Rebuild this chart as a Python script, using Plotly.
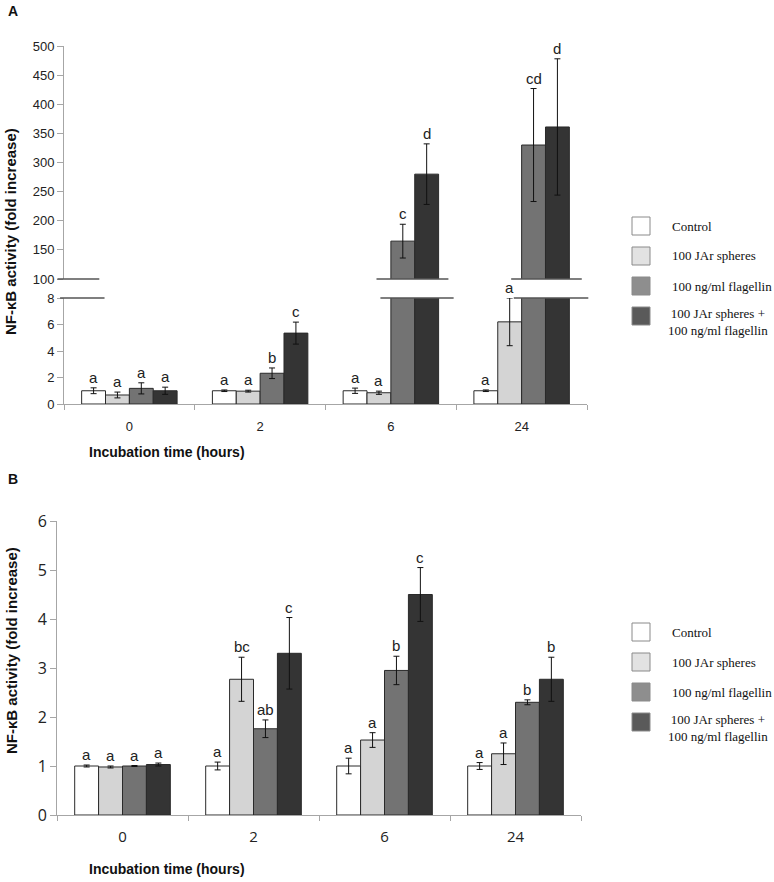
import plotly.graph_objects as go

W, H = 774, 882

times = ["0", "2", "6", "24"]
series_names = ["Control", "100 JAr spheres", "100 ng/ml flagellin",
                "100 JAr spheres +<br>100 ng/ml flagellin"]
bar_colors = ["#ffffff", "#d4d4d4", "#737373", "#343434"]
legend_colors = ["#ffffff", "#e2e2e2", "#8e8e8e", "#5a5a5a"]

# panel A (fold increase, broken axis)
a_control = [1.0, 1.0, 1.0, 1.0]
a_control_err = [0.22, 0.06, 0.2, 0.06]
a_spheres = [0.68, 0.97, 0.85, 6.2]
a_spheres_err = [0.22, 0.07, 0.12, 1.8]
a_flag = [1.18, 2.32, 165, 330]
a_flag_err = [0.42, 0.4, 29, 97]
a_both = [1.0, 5.35, 280, 361]
a_both_err = [0.27, 0.83, 52, 117]
a_letters = [["a", "a", "a", "a"], ["a", "a", "a", "a"],
             ["a", "b", "c", "cd"], ["a", "c", "d", "d"]]

# panel B
b_control = [1.0, 1.0, 1.0, 1.0]
b_control_err = [0.02, 0.08, 0.16, 0.07]
b_spheres = [0.98, 2.77, 1.53, 1.25]
b_spheres_err = [0.02, 0.45, 0.15, 0.22]
b_flag = [1.0, 1.76, 2.95, 2.3]
b_flag_err = [0.01, 0.18, 0.29, 0.05]
b_both = [1.03, 3.3, 4.5, 2.77]
b_both_err = [0.03, 0.73, 0.55, 0.45]
b_letters = [["a", "a", "a", "a"], ["a", "bc", "a", "a"],
             ["a", "ab", "b", "b"], ["a", "c", "c", "b"]]

a_vals = [a_control, a_spheres, a_flag, a_both]
a_errs = [a_control_err, a_spheres_err, a_flag_err, a_both_err]
b_vals = [b_control, b_spheres, b_flag, b_both]
b_errs = [b_control_err, b_spheres_err, b_flag_err, b_both_err]

BARGAP = 0.27
bw = (1 - BARGAP) / 4
xpos = list(range(len(times)))


def px(x):
    return x / W


def py(y):
    return 1 - y / H


# domains in pixels of the 774x882 page
A_X = [px(64), px(587)]
A_LOW = [py(404), py(298)]
A_UP = [py(279), py(46)]
B_X = [px(57), px(581)]
B_Y = [py(815), py(521)]

SANS = "Liberation Sans, Arial, sans-serif"
SERIF = "Liberation Serif, Times New Roman, serif"
AX = "#a6a6a6"

fig = go.Figure()


def add_bars(vals, errs, xa, ya):
    for j in range(4):
        fig.add_trace(go.Bar(
            x=xpos, y=vals[j], xaxis=xa, yaxis=ya,
            marker=dict(color=bar_colors[j], line=dict(color="#2a2a2a", width=1)),
            error_y=dict(type="data", array=errs[j], color="#111", thickness=1, width=3),
            showlegend=False, name=series_names[j].replace("<br>", " "),
        ))


add_bars(a_vals, a_errs, "x", "y")
add_bars(a_vals, a_errs, "x", "y2")
add_bars(b_vals, b_errs, "x2", "y3")

ann = []
letter_font = dict(family=SANS, size=15, color="#222")
# significance letters
for j in range(4):
    for i in range(4):
        top = a_vals[j][i] + a_errs[j][i]
        yref = "y2" if a_vals[j][i] > 8 else "y"
        ann.append(dict(x=i + (j - 1.5) * bw, y=top, xref="x", yref=yref,
                        text=a_letters[j][i], showarrow=False, yanchor="bottom",
                        xanchor="center", font=letter_font))
        top = b_vals[j][i] + b_errs[j][i]
        ann.append(dict(x=i + (j - 1.5) * bw, y=top, xref="x2", yref="y3",
                        text=b_letters[j][i], showarrow=False, yanchor="bottom",
                        xanchor="center", font=letter_font))


def paper_text(x, y, text, font, **kw):
    d = dict(x=px(x), y=py(y), xref="paper", yref="paper", text=text, showarrow=False,
             xanchor="center", yanchor="middle", font=font)
    d.update(kw)
    ann.append(d)


bold14 = dict(family=SANS, size=14, color="#111")
bold15 = dict(family=SANS, size=15, color="#111")
# panel letters, axis titles
paper_text(13, 11, "<b>A</b>", bold14)
paper_text(13, 479, "<b>B</b>", bold14)
paper_text(11, 232, "<b>NF-κB activity (fold increase)</b>", bold15, textangle=-90)
paper_text(11, 651, "<b>NF-κB activity (fold increase)</b>", bold15, textangle=-90)
paper_text(167, 452, "<b>Incubation time (hours)</b>", bold14)
paper_text(167, 869, "<b>Incubation time (hours)</b>", bold14)

shapes = []


# broken-axis marks (drawn in paper space so they are not clipped)
def ax_x(v):
    return A_X[0] + (v + 0.5) / 4 * (A_X[1] - A_X[0])


breaks_up = [(-0.55, -0.23), (1.89, 2.44), (2.92, 3.46)]
breaks_low = [(-0.53, -0.19), (1.92, 2.48), (2.94, 3.51)]
for x0, x1 in breaks_up:
    shapes.append(dict(type="line", xref="paper", yref="paper", x0=ax_x(x0), x1=ax_x(x1),
                       y0=A_UP[0], y1=A_UP[0], line=dict(color="#555", width=1.5)))
for x0, x1 in breaks_low:
    shapes.append(dict(type="line", xref="paper", yref="paper", x0=ax_x(x0), x1=ax_x(x1),
                       y0=A_LOW[1], y1=A_LOW[1], line=dict(color="#555", width=1.5)))


# hand-drawn legends
serif13 = dict(family=SERIF, size=13, color="#111")


def legend(top):
    for j in range(4):
        y0 = top + 30 * j
        shapes.append(dict(type="rect", xref="paper", yref="paper",
                           x0=px(632), x1=px(650), y0=py(y0 + 18), y1=py(y0),
                           fillcolor=legend_colors[j], line=dict(color="#8a8a8a", width=1)))
        if j < 3:
            paper_text(670, y0 + 9, series_names[j], serif13, xanchor="left")
        else:
            paper_text(718, y0 + 15, series_names[j], serif13, align="center")


legend(217)
legend(623)

xcommon = dict(range=[-0.5, 3.5], tickmode="array", tickvals=xpos, ticktext=times,
               ticks="", showline=True, linecolor=AX, linewidth=1, showgrid=False,
               zeroline=False, automargin=False,
               minor=dict(tickmode="array", tickvals=[-0.5, 0.5, 1.5, 2.5, 3.5],
                          ticks="outside", ticklen=5, tickcolor=AX, showgrid=False))
ycommon = dict(showline=True, linecolor=AX, linewidth=1, ticks="outside", ticklen=6,
               tickcolor=AX, showgrid=False, zeroline=False, automargin=False)

fig.update_layout(
    width=W, height=H, margin=dict(l=0, r=0, t=0, b=0),
    paper_bgcolor="white", plot_bgcolor="white",
    barmode="group", bargap=BARGAP, bargroupgap=0,
    xaxis=dict(domain=A_X, anchor="y", ticklabelstandoff=10,
               tickfont=dict(family=SANS, size=13, color="#222"), **xcommon),
    yaxis=dict(domain=A_LOW, anchor="x", range=[0, 8], tickvals=[0, 2, 4, 6, 8],
               tickfont=dict(family=SANS, size=13, color="#222"), **ycommon),
    yaxis2=dict(domain=A_UP, anchor="x", range=[100, 500], tickvals=list(range(100, 501, 50)),
                tickfont=dict(family=SANS, size=13, color="#222"), **ycommon),
    xaxis2=dict(domain=B_X, anchor="y3", ticklabelstandoff=8,
                tickfont=dict(family="Open Sans, sans-serif", size=15, color="#222"), **xcommon),
    yaxis3=dict(domain=B_Y, anchor="x2", range=[0, 6], tickvals=list(range(0, 7)),
                tickfont=dict(family="Open Sans, sans-serif", size=16, color="#222"), **ycommon),
    annotations=ann, shapes=shapes, showlegend=False,
)

# drop the default page margin so the figure fills the 774x882 window exactly
fig.write_html("out.html", config={"displayModeBar": False},
               post_script="document.body.style.margin='0';document.body.style.overflow='hidden';")
